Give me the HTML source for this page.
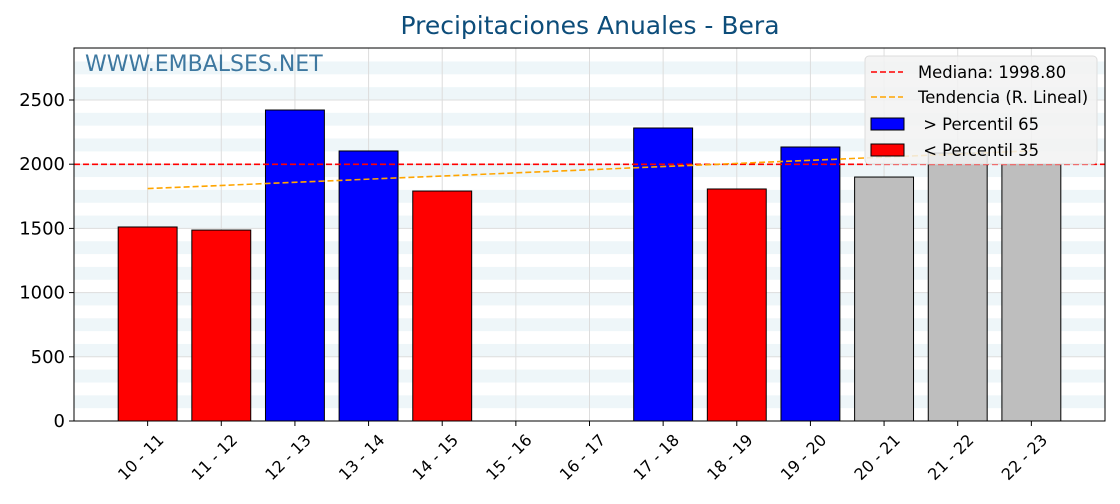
<!DOCTYPE html>
<html><head><meta charset="utf-8"><style>
body{margin:0;background:#fff;font-family:"DejaVu Sans","Liberation Sans",sans-serif}
</style></head><body>
<svg id="c" width="1120" height="500" xmlns="http://www.w3.org/2000/svg"></svg>
<script>
const categories=["10 - 11","11 - 12","12 - 13","13 - 14","14 - 15","15 - 16","16 - 17","17 - 18","18 - 19","19 - 20","20 - 21","21 - 22","22 - 23"];
const values=[1511,1487,2422,2103,1791,null,null,2282,1807,2134,1900,2087,2001];
const barColors=["red","red","blue","blue","red",null,null,"blue","red","blue","#bebebe","#bebebe","#bebebe"];
const yTicks=[0,500,1000,1500,2000,2500];
const median=1998.8;
const trendStart=1810, trendEnd=2104;
const L=74,R=1105,T=48,B=421,YMAX=2905;
const sx=i=>L+(i+1)*(R-L)/14;
const sy=v=>B-v*(B-T)/YMAX;
const svg=document.getElementById('c');
const NS="http://www.w3.org/2000/svg";
function mk(t,a,p){const e=document.createElementNS(NS,t);for(const k in a)e.setAttribute(k,a[k]);(p||svg).appendChild(e);return e;}
for(let v=100;v<YMAX;v+=200){const r=mk('rect',{x:L,y:sy(Math.min(v+100,YMAX)),width:R-L,height:sy(v)-sy(Math.min(v+100,YMAX)),fill:'#eef6f9'});

}
yTicks.forEach(v=>{const g=mk('line',{x1:L,x2:R,y1:sy(v),y2:sy(v),stroke:'#dddddd','stroke-width':1});

});
categories.forEach((c,i)=>{const g=mk('line',{x1:sx(i),x2:sx(i),y1:T,y2:B,stroke:'#dddddd','stroke-width':1});

});
const bw=0.8*(R-L)/14;
categories.forEach((c,i)=>{if(values[i]==null)return;const b=mk('rect',{x:sx(i)-bw/2,y:sy(values[i]),width:bw,height:B-sy(values[i]),fill:barColors[i],stroke:'#000','stroke-width':1});

});
const m=mk('line',{x1:L,x2:R,y1:sy(median),y2:sy(median),stroke:'red','stroke-width':1.6,'stroke-dasharray':'6,3'});


const tr=mk('line',{x1:sx(0),x2:sx(12),y1:sy(trendStart),y2:sy(trendEnd),stroke:'orange','stroke-width':1.6,'stroke-dasharray':'6,3'});


const f=mk('rect',{x:L,y:T,width:R-L,height:B-T,fill:'none',stroke:'#000','stroke-width':1});


yTicks.forEach(v=>{mk('line',{x1:L-5,x2:L,y1:sy(v),y2:sy(v),stroke:'#000'});
const t=mk('text',{x:L-9,y:sy(v)+6,'text-anchor':'end','font-size':18,fill:'#000'});t.textContent=v;

});
categories.forEach((c,i)=>{mk('line',{x1:sx(i),x2:sx(i),y1:B,y2:B+5,stroke:'#000'});
const t=mk('text',{transform:`translate(${sx(i)+17},${B+20}) rotate(-45)`,'text-anchor':'end','font-size':16,fill:'#000'});t.textContent=c;

});
</script>
<svg style="position:absolute;left:0;top:0" width="1120" height="500">
<text x="590" y="34" text-anchor="middle" font-size="25" fill="#0d4d7a" font-family="DejaVu Sans, Liberation Sans, sans-serif">Precipitaciones Anuales - Bera</text>
<text x="85" y="71" font-size="22" fill="#2a6a96" opacity="0.9" font-family="DejaVu Sans, Liberation Sans, sans-serif">WWW.EMBALSES.NET</text>
<g font-family="DejaVu Sans, Liberation Sans, sans-serif" font-size="16.4">
<rect x="865" y="56" width="232" height="108" rx="4" fill="#f2f2f2" fill-opacity="0.85" stroke="#dddddd"/>
<line x1="871" x2="903" y1="72" y2="72" stroke="red" stroke-width="1.6" stroke-dasharray="6,3"/>
<text x="918" y="78">Mediana: 1998.80</text>
<line x1="871" x2="903" y1="97" y2="97" stroke="orange" stroke-width="1.6" stroke-dasharray="6,3"/>
<text x="918" y="103">Tendencia (R. Lineal)</text>
<rect x="871" y="118" width="33" height="12" fill="blue" stroke="#000"/>
<text x="918" y="130" xml:space="preserve"> &gt; Percentil 65</text>
<rect x="871" y="144" width="33" height="12" fill="red" stroke="#000"/>
<text x="918" y="156" xml:space="preserve"> &lt; Percentil 35</text>
</g>
</svg>
</body></html>
